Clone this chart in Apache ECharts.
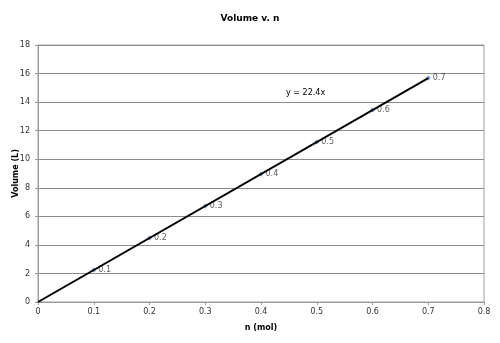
<!DOCTYPE html>
<html><head><meta charset="utf-8">
<script src="https://cdn.jsdelivr.net/npm/echarts@6/dist/echarts.min.js"></script>
<style>html,body{margin:0;padding:0;background:#fff}#c{width:500px;height:343px}</style>
</head><body><div id="c"></div>
<script>
const nValues = [0.1, 0.2, 0.3, 0.4, 0.5, 0.6, 0.7];
const volumeValues = [2.24, 4.48, 6.72, 8.96, 11.2, 13.44, 15.68];
const pointLabels = ['0.1', '0.2', '0.3', '0.4', '0.5', '0.6', '0.7'];
const trendX = [0, 0.7];
const trendY = [0, 15.68];
const trendText = 'y = 22.4x';

const chart = echarts.init(document.getElementById('c'), null, {renderer: 'canvas'});
const font = 'Lucida Grande, DejaVu Sans, Verdana, sans-serif';
chart.setOption({
  animation: false,
  backgroundColor: '#fff',
  title: {
    text: 'Volume v. n', left: 'center', top: 9,
    textStyle: {fontFamily: font, fontSize: 9, fontWeight: 'bold', color: '#000'}
  },
  grid: {left: 38, right: 16, top: 45, bottom: 41, show: true, borderColor: '#a0a0a0', borderWidth: 1,
         containLabel: false, outerBoundsMode: 'none'},
  xAxis: {
    type: 'value', min: 0, max: 0.8, interval: 0.1,
    name: 'n (mol)', nameLocation: 'middle', nameGap: 22, nameMoveOverlap: false,
    nameTextStyle: {fontFamily: font, fontSize: 8, fontWeight: 'bold', color: '#000'},
    axisLine: {lineStyle: {color: '#999'}},
    axisTick: {show: true, length: 3, lineStyle: {color: '#999'}},
    axisLabel: {fontFamily: font, fontSize: 8, color: '#333', margin: 6},
    splitLine: {show: false}
  },
  yAxis: {
    type: 'value', min: 0, max: 18, interval: 2,
    name: 'Volume (L)', nameLocation: 'middle', nameGap: 18, nameRotate: 90, nameMoveOverlap: false,
    nameTextStyle: {fontFamily: font, fontSize: 8, fontWeight: 'bold', color: '#000'},
    axisLine: {show: true, lineStyle: {color: '#999'}},
    axisTick: {show: true, length: 3, lineStyle: {color: '#999'}},
    axisLabel: {fontFamily: font, fontSize: 8, color: '#333', margin: 8},
    splitLine: {show: true, lineStyle: {color: '#8c8c8c', width: 1}}
  },
  series: [
    {
      type: 'scatter',
      data: nValues.map((x, i) => [x, volumeValues[i], pointLabels[i]]),
      symbol: 'diamond', symbolSize: 5,
      itemStyle: {color: '#4f81bd'},
      label: {
        show: true, position: 'right', distance: 2,
        formatter: p => p.data[2],
        fontFamily: font, fontSize: 8, color: '#333'
      },
      z: 2
    },
    {
      type: 'line',
      data: trendX.map((x, i) => [x, trendY[i]]),
      symbol: 'none',
      lineStyle: {color: '#000', width: 2},
      z: 3,
      markPoint: {
        symbol: 'rect', symbolSize: 1,
        itemStyle: {color: 'rgba(0,0,0,0)'},
        label: {show: true, formatter: trendText, fontFamily: font, fontSize: 8, color: '#000', position: 'inside'},
        data: [{coord: [0.48, 14.67]}]
      }
    }
  ]
});
</script></body></html>
